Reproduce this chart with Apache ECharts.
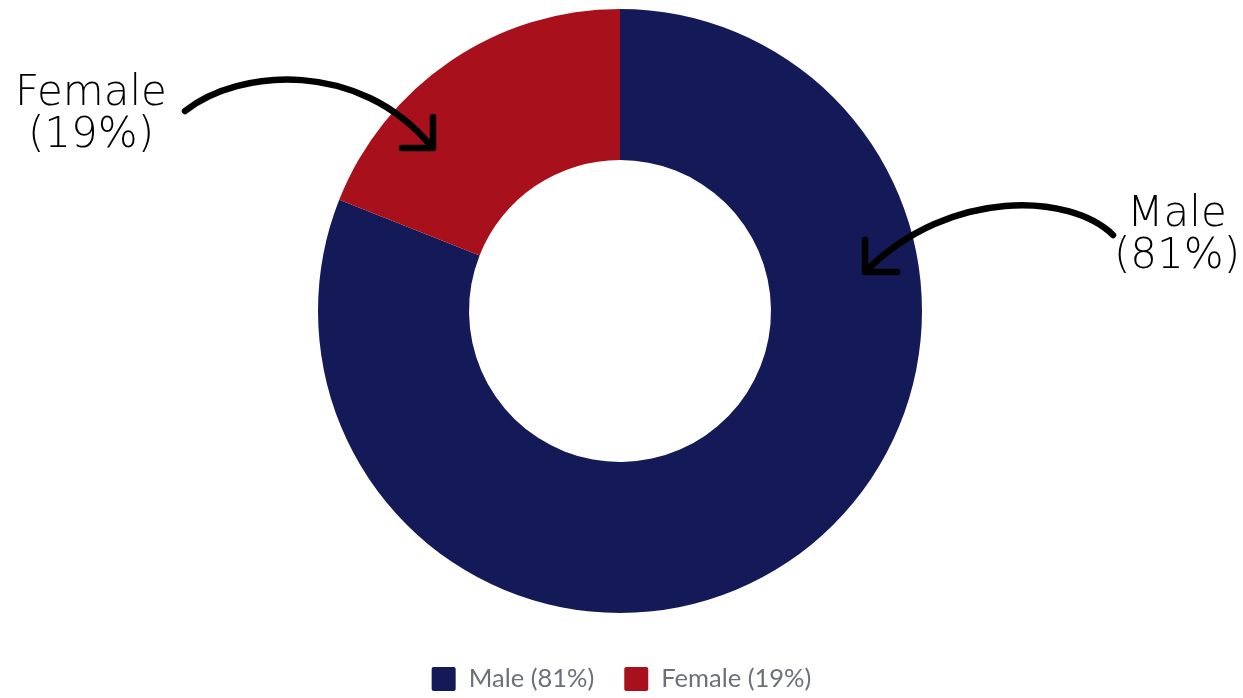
<!DOCTYPE html>
<html>
<head>
<meta charset="utf-8">
<script src="https://cdn.jsdelivr.net/npm/echarts@6/dist/echarts.min.js"></script>
<style>
html,body{margin:0;padding:0;background:#fff;}
#c{width:1243px;height:698px;}
</style>
</head>
<body>
<div id="c"></div>
<script>
const categories = ['Male', 'Female'];
const values = [81, 19];
const colors = ['#141a57', '#a8101b'];

const chart = echarts.init(document.getElementById('c'));
const legendNames = categories.map((c, i) => `${c} (${values[i]}%)`);
const labelFont = { fontFamily: 'DejaVu Sans', fontWeight: 200, fontSize: 42, lineHeight: 42, fill: '#000', align: 'center', verticalAlign: 'top' };

chart.setOption({
  animation: false,
  color: colors,
  legend: {
    bottom: 1,
    left: 'center',
    icon: 'path://M2,0h20a2,2 0 0 1 2,2v20a2,2 0 0 1 -2,2h-20a2,2 0 0 1 -2,-2v-20a2,2 0 0 1 2,-2z',
    itemWidth: 24,
    itemHeight: 24,
    itemGap: 30,
    data: legendNames,
    textStyle: { fontFamily: 'Lato', fontSize: 25.5, color: '#6e7079', padding: [0, 0, 0, 8] }
  },
  series: [{
    type: 'pie',
    center: [620, 311],
    radius: [151, 302],
    startAngle: 90,
    clockwise: true,
    label: { show: false },
    labelLine: { show: false },
    itemStyle: { borderWidth: 0 },
    emphasis: { disabled: true },
    data: categories.map((c, i) => ({ name: legendNames[i], value: values[i] }))
  }],
  graphic: [
    { type: 'text', x: 91, y: 73, style: Object.assign({ text: `${categories[1]}\n(${values[1]}%)` }, labelFont), z: 10 },
    { type: 'text', x: 1177, y: 194, style: Object.assign({ text: `${categories[0]}\n(${values[0]}%)` }, labelFont), z: 10 },
    { type: 'bezierCurve', shape: { x1: 185, y1: 111, cpx1: 240, cpy1: 68, cpx2: 360, cpy2: 60, x2: 431, y2: 146 },
      style: { stroke: '#000', lineWidth: 6.5, fill: null, lineCap: 'round' }, z: 10 },
    { type: 'polyline', shape: { points: [[433, 117], [433, 148], [402, 148]] },
      style: { stroke: '#000', lineWidth: 6.5, fill: null, lineCap: 'round', lineJoin: 'round' }, z: 10 },
    { type: 'bezierCurve', shape: { x1: 1113, y1: 235, cpx1: 1070, cpy1: 193, cpx2: 950, cpy2: 188, x2: 867, y2: 270 },
      style: { stroke: '#000', lineWidth: 6.5, fill: null, lineCap: 'round' }, z: 10 },
    { type: 'polyline', shape: { points: [[865, 240], [865, 272], [897, 272]] },
      style: { stroke: '#000', lineWidth: 6.5, fill: null, lineCap: 'round', lineJoin: 'round' }, z: 10 }
  ]
});
</script>
</body>
</html>
